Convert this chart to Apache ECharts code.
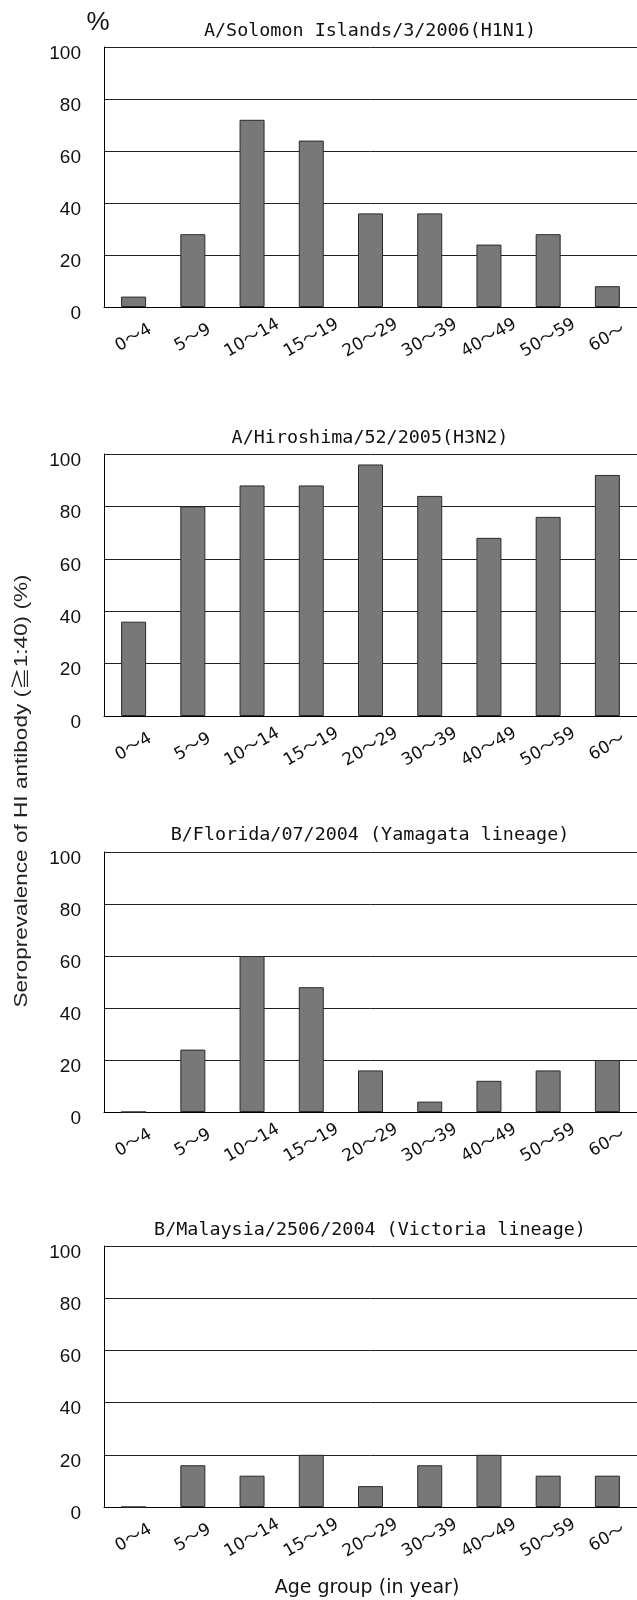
<!DOCTYPE html>
<html>
<head>
<meta charset="utf-8">
<script src="https://cdn.jsdelivr.net/npm/echarts@6/dist/echarts.min.js"></script>
<style>
html,body{margin:0;padding:0;background:#fff;}
#chart{width:637px;height:1600px;}
</style>
</head>
<body>
<div id="chart"></div>
<script>
var categories = ['0～4','5～9','10～14','15～19','20～29','30～39','40～49','50～59','60～'];
var titles = [
  'A/Solomon Islands/3/2006(H1N1)',
  'A/Hiroshima/52/2005(H3N2)',
  'B/Florida/07/2004 (Yamagata lineage)',
  'B/Malaysia/2506/2004 (Victoria lineage)'
];
var h1n1 = [4, 28, 72, 64, 36, 36, 24, 28, 8];
var h3n2 = [36, 80, 88, 88, 96, 84, 68, 76, 92];
var yamagata = [0, 24, 60, 48, 16, 4, 12, 16, 20];
var victoria = [0, 16, 12, 20, 8, 16, 20, 12, 12];
var yTicks = [0, 20, 40, 60, 80, 100];
var yAxisTitle = 'Seroprevalence of HI antibody (≧1:40) (%)';
var xAxisTitle = 'Age group (in year)';
var unitLabel = '%';

var seriesData = [h1n1, h3n2, yamagata, victoria];
var gridTops = [47, 454, 852, 1246];
var gridHeights = [260, 262, 260, 261];
var titleY = [31, 438, 835, 1230];
var tickFont = '"Liberation Sans","Noto Sans CJK JP",sans-serif';
var catFont = '"DejaVu Sans","Noto Sans CJK JP",sans-serif';
var titleFont = '"DejaVu Sans Mono","Noto Sans CJK JP",monospace';
var yTitleFont = '18px "Liberation Sans","Noto Sans CJK JP",sans-serif';

// stretch the rotated axis title along its length to match the reference span
var mctx = document.createElement('canvas').getContext('2d');
mctx.font = yTitleFont;
var yTitleScale = 433 / mctx.measureText(yAxisTitle).width;

var grids = [], xAxes = [], yAxes = [], series = [], graphics = [];
for (var i = 0; i < 4; i++) {
  grids.push({left: 104, width: 534, top: gridTops[i], height: gridHeights[i]});
  xAxes.push({
    type: 'category', gridIndex: i, data: categories,
    axisLine: {lineStyle: {color: '#000', width: 1}},
    axisTick: {inside: true, length: 5, lineStyle: {color: '#000'}},
    axisLabel: {
      rotate: 30, align: 'center', verticalAlign: 'middle', margin: 31,
      fontFamily: catFont, fontSize: 17, color: '#111', interval: 0
    }
  });
  yAxes.push({
    type: 'value', gridIndex: i, min: yTicks[0], max: yTicks[yTicks.length - 1], interval: 20,
    axisLine: {show: true, lineStyle: {color: '#000', width: 1}},
    axisTick: {show: false},
    splitLine: {show: true, lineStyle: {color: '#222', width: 1}},
    axisLabel: {
      margin: 23, fontFamily: tickFont, fontSize: 19, color: '#111',
      verticalAlign: 'top', lineHeight: 13
    }
  });
  series.push({
    type: 'bar', xAxisIndex: i, yAxisIndex: i, data: seriesData[i],
    barWidth: 25, silent: true,
    itemStyle: {color: '#787878', borderColor: '#2a2a2a', borderWidth: 1}
  });
  graphics.push({
    type: 'text', x: 370, y: titleY[i],
    style: {text: titles[i], font: '18.4px ' + titleFont, fill: '#111', align: 'center', verticalAlign: 'middle'}
  });
}
graphics.push({
  type: 'text', x: 98, y: 23,
  style: {text: unitLabel, font: '26px ' + tickFont, fill: '#111', align: 'center', verticalAlign: 'middle'}
});
graphics.push({
  type: 'text', x: 367, y: 1588,
  style: {text: xAxisTitle, font: '19px ' + catFont, fill: '#111', align: 'center', verticalAlign: 'middle'}
});
graphics.push({
  type: 'text', x: 22, y: 791, rotation: Math.PI / 2, scaleX: yTitleScale,
  style: {text: yAxisTitle, font: yTitleFont, fill: '#222', align: 'center', verticalAlign: 'middle'}
});

var chart = echarts.init(document.getElementById('chart'), null, {renderer: 'canvas'});
chart.setOption({
  backgroundColor: '#fff',
  animation: false,
  grid: grids,
  xAxis: xAxes,
  yAxis: yAxes,
  series: series,
  graphic: graphics
});
</script>
</body>
</html>
